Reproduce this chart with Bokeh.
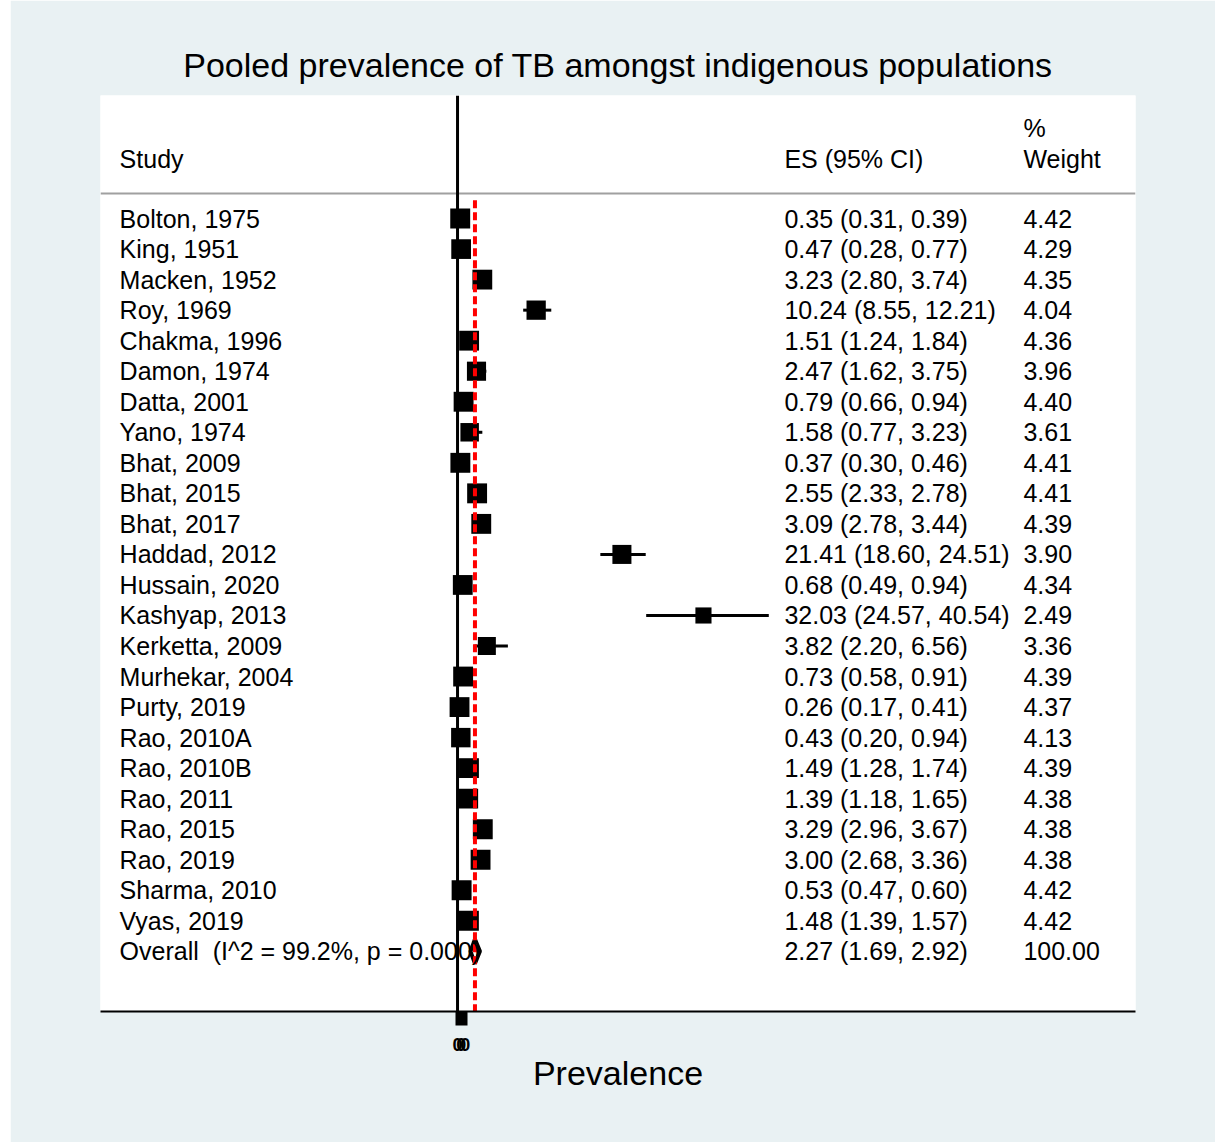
import math
from bokeh.plotting import figure
from bokeh.models import Range1d, Span, FixedTicker, ColumnDataSource
from bokeh.core.properties import value
from bokeh.embed import file_html
from bokeh.resources import INLINE

studies = ["Bolton, 1975", "King, 1951", "Macken, 1952", "Roy, 1969", "Chakma, 1996",
           "Damon, 1974", "Datta, 2001", "Yano, 1974", "Bhat, 2009", "Bhat, 2015",
           "Bhat, 2017", "Haddad, 2012", "Hussain, 2020", "Kashyap, 2013", "Kerketta, 2009",
           "Murhekar, 2004", "Purty, 2019", "Rao, 2010A", "Rao, 2010B", "Rao, 2011",
           "Rao, 2015", "Rao, 2019", "Sharma, 2010", "Vyas, 2019"]
es = [0.35, 0.47, 3.23, 10.24, 1.51, 2.47, 0.79, 1.58, 0.37, 2.55, 3.09, 21.41, 0.68,
      32.03, 3.82, 0.73, 0.26, 0.43, 1.49, 1.39, 3.29, 3.00, 0.53, 1.48]
lo = [0.31, 0.28, 2.80, 8.55, 1.24, 1.62, 0.66, 0.77, 0.30, 2.33, 2.78, 18.60, 0.49,
      24.57, 2.20, 0.58, 0.17, 0.20, 1.28, 1.18, 2.96, 2.68, 0.47, 1.39]
hi = [0.39, 0.77, 3.74, 12.21, 1.84, 3.75, 0.94, 3.23, 0.46, 2.78, 3.44, 24.51, 0.94,
      40.54, 6.56, 0.91, 0.41, 0.94, 1.74, 1.65, 3.67, 3.36, 0.60, 1.57]
weights = [4.42, 4.29, 4.35, 4.04, 4.36, 3.96, 4.40, 3.61, 4.41, 4.41, 4.39, 3.90, 4.34,
           2.49, 3.36, 4.39, 4.37, 4.13, 4.39, 4.38, 4.38, 4.38, 4.42, 4.42]
overall_label = "Overall\u00a0\u00a0(I^2 = 99.2%, p = 0.000)"
overall_es, overall_lo, overall_hi = 2.27, 1.69, 2.92
overall_weight = "100.00"
title_text = "Pooled prevalence of TB amongst indigenous populations"
x_label = "Prevalence"
tick_values = [0, 0.5, 1]
tick_labels = {0: "0", 0.5: "0", 1: "0"}

FONT = "Liberation Sans"
BG = "#e9f1f3"

n = len(studies)
rows = list(range(n))

p = figure(width=1205, height=1142, output_backend="svg", toolbar_location=None,
           x_range=Range1d(-46.5, 88.3), y_range=Range1d(25.97, -4.03),
           min_border_left=90, min_border_right=80, min_border_top=95, min_border_bottom=131,
           y_axis_location=None)
p.margin = (0, 6, 0, 10)
p.background_fill_color = "white"
p.border_fill_color = BG
p.outline_line_color = None
p.grid.visible = False

p.title.text = title_text
p.title.align = "center"
p.title.text_font = FONT
p.title.text_font_size = "34px"
p.title.text_font_style = "normal"
p.title.text_color = "black"
p.title.standoff = 24

ax = p.xaxis[0]
ax.ticker = FixedTicker(ticks=tick_values)
ax.major_label_overrides = tick_labels
ax.axis_line_width = 2
ax.axis_line_color = "black"
ax.major_tick_line_width = 4
ax.major_tick_line_color = "black"
ax.major_tick_out = 14
ax.major_tick_in = 0
ax.minor_tick_line_color = None
ax.major_label_text_font = FONT
ax.major_label_text_font_size = "18px"
ax.major_label_text_font_style = "bold"
ax.major_label_text_color = "black"
ax.major_label_standoff = 12
ax.axis_label = x_label
ax.axis_label_text_font = FONT
ax.axis_label_text_font_size = "34px"
ax.axis_label_text_font_style = "normal"
ax.axis_label_text_color = "black"
ax.axis_label_standoff = 0

# header separator
p.add_layout(Span(location=-0.82, dimension="width", line_color="#a0a0a0", line_width=2))
# zero line
p.add_layout(Span(location=0, dimension="height", line_color="black", line_width=3))

# CI lines and weighted squares
src = ColumnDataSource(dict(y=rows, es=es, lo=lo, hi=hi,
                            size=[11.5 * w ** 0.37 for w in weights]))
p.segment(x0="lo", x1="hi", y0="y", y1="y", source=src, line_color="black", line_width=3)
p.scatter(x="es", y="y", size="size", marker="square", source=src,
          fill_color="black", line_color=None)

# overall diamond
oy = n
p.patch([overall_lo, overall_es, overall_hi, overall_es, overall_lo],
        [oy, oy - 0.4, oy, oy + 0.4, oy], fill_color=None, line_color="black", line_width=4)

# overall dashed red line
p.segment(x0=[overall_es], x1=[overall_es], y0=[-0.6], y1=[26.5],
          line_color="red", line_width=4, line_dash="8 4")

# text columns
x_study = (119 - 457) / 7.68
x_es = (784 - 457) / 7.68
x_w = (1023 - 457) / 7.68
labels = studies + [overall_label]
es_txt = [f"{e:.2f} ({l:.2f}, {h:.2f})" for e, l, h in zip(es, lo, hi)] + \
         [f"{overall_es:.2f} ({overall_lo:.2f}, {overall_hi:.2f})"]
w_txt = [f"{w:.2f}" for w in weights] + [overall_weight]
ys = rows + [oy]
common = dict(text_font=value(FONT), text_font_size="25px", text_color="black",
              text_baseline="middle", text_align="left")
p.text(x=[x_study] * len(ys), y=ys, text=labels, **common)
p.text(x=[x_es] * len(ys), y=ys, text=es_txt, **common)
p.text(x=[x_w] * len(ys), y=ys, text=w_txt, **common)

# headers
p.text(x=[x_study, x_es, x_w, x_w], y=[-1.96, -1.96, -1.96, -2.95],
       text=["Study", "ES (95% CI)", "Weight", "%"], **common)

open("out.html", "w").write(file_html(p, INLINE))
